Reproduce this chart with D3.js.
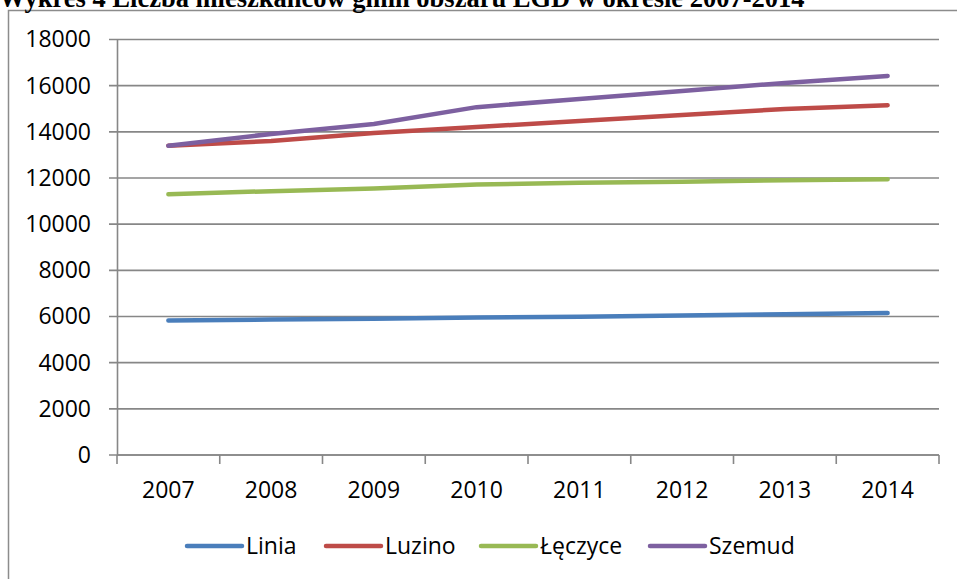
<!DOCTYPE html>
<html>
<head>
<meta charset="utf-8">
<script src="https://cdn.jsdelivr.net/npm/d3@7"></script>
<style>
  body { margin: 0; background: #fff; }
  svg { display: block; }
</style>
</head>
<body>
<div id="chart"></div>
<script>
// data
var years = ["2007", "2008", "2009", "2010", "2011", "2012", "2013", "2014"];
var linia   = [5830, 5870, 5900, 5960, 5990, 6040, 6100, 6150];
var luzino  = [13400, 13600, 13950, 14210, 14470, 14730, 14990, 15150];
var leczyce = [11295, 11430, 11550, 11720, 11790, 11840, 11900, 11945];
var szemud  = [13400, 13910, 14340, 15070, 15425, 15770, 16120, 16420];
var seriesNames = ["Linia", "Luzino", "Łęczyce", "Szemud"];
var yTicks = [0, 2000, 4000, 6000, 8000, 10000, 12000, 14000, 16000, 18000];

var colors = ["#4a7ebb", "#be4b48", "#98b954", "#7d60a0"];
var series = [linia, luzino, leczyce, szemud];

var W = 957, H = 579;
var svg = d3.select("#chart").append("svg")
    .attr("width", W)
    .attr("height", H);

// chart frame (right and bottom edges fall outside the picture)
svg.append("rect")
    .attr("x", 8.5).attr("y", 10.5)
    .attr("width", 1000).attr("height", 1000)
    .attr("fill", "#fff")
    .attr("stroke", "#8c8c8c")
    .attr("stroke-width", 1.5);

// title, cut at the top like in the source
svg.append("text")
    .attr("x", -1).attr("y", 7)
    .attr("font-family", "'Liberation Serif', 'Times New Roman', serif")
    .attr("font-weight", "bold")
    .attr("font-size", 26.5)
    .attr("fill", "#000")
    .text("Wykres 4 Liczba mieszkańców gmin obszaru LGD w okresie 2007-2014");

var plot = {left: 117, right: 939, top: 39.5, bottom: 455};

var x = d3.scaleBand()
    .domain(years)
    .range([plot.left, plot.right]);

var y = d3.scaleLinear()
    .domain([0, 18000])
    .range([plot.bottom, plot.top]);

var font = "'Open Sans', 'Noto Sans', sans-serif";
var fontSize = 23;

// gridlines
svg.append("g")
    .selectAll("line")
    .data(yTicks)
    .enter()
    .append("line")
    .attr("x1", plot.left - 8)
    .attr("x2", plot.right)
    .attr("y1", function(d) { return y(d); })
    .attr("y2", function(d) { return y(d); })
    .attr("stroke", "#878787")
    .attr("stroke-width", 1.6);

// y axis labels
var yAxis = svg.append("g")
    .attr("transform", "translate(" + plot.left + ",0)")
    .call(d3.axisLeft(y).tickValues(yTicks).tickSize(0).tickPadding(26).tickFormat(d3.format("d")));
yAxis.select(".domain").attr("stroke", "#878787").attr("stroke-width", 1.6);
yAxis.selectAll("text")
    .attr("font-family", font)
    .attr("font-size", fontSize)
    .attr("fill", "#000");

// x axis with ticks between categories
var xAxisG = svg.append("g")
    .attr("transform", "translate(0," + plot.bottom + ")");
xAxisG.append("line")
    .attr("x1", plot.left).attr("x2", plot.right)
    .attr("stroke", "#878787").attr("stroke-width", 1.6);
var bounds = years.map(function(d) { return x(d); }).concat([plot.right]);
xAxisG.selectAll(".xt")
    .data(bounds)
    .enter()
    .append("line")
    .attr("class", "xt")
    .attr("x1", function(d) { return d; })
    .attr("x2", function(d) { return d; })
    .attr("y1", 0).attr("y2", 9)
    .attr("stroke", "#878787").attr("stroke-width", 1.6);
xAxisG.selectAll(".xl")
    .data(years)
    .enter()
    .append("text")
    .attr("class", "xl")
    .attr("x", function(d) { return x(d) + x.bandwidth() / 2; })
    .attr("y", 35)
    .attr("dy", "0.35em")
    .attr("text-anchor", "middle")
    .attr("font-family", font)
    .attr("font-size", fontSize)
    .text(function(d) { return d; });

// lines
var line = d3.line()
    .x(function(d, i) { return x(years[i]) + x.bandwidth() / 2; })
    .y(function(d) { return y(d); });

svg.append("g")
    .selectAll("path")
    .data(series)
    .enter()
    .append("path")
    .attr("d", line)
    .attr("fill", "none")
    .attr("stroke", function(d, i) { return colors[i]; })
    .attr("stroke-width", 4.5)
    .attr("stroke-linecap", "round")
    .attr("stroke-linejoin", "round");

// legend
var legendX = [187, 326, 481, 650];
var legend = svg.append("g")
    .selectAll("g")
    .data(seriesNames)
    .enter()
    .append("g")
    .attr("transform", function(d, i) { return "translate(" + legendX[i] + ",546)"; });
legend.append("line")
    .attr("x1", 0).attr("x2", 55)
    .attr("stroke", function(d, i) { return colors[i]; })
    .attr("stroke-width", 4.5)
    .attr("stroke-linecap", "round");
legend.append("text")
    .attr("x", 59)
    .attr("dy", "0.35em")
    .attr("font-family", font)
    .attr("font-size", fontSize)
    .text(function(d) { return d; });
</script>
</body>
</html>
